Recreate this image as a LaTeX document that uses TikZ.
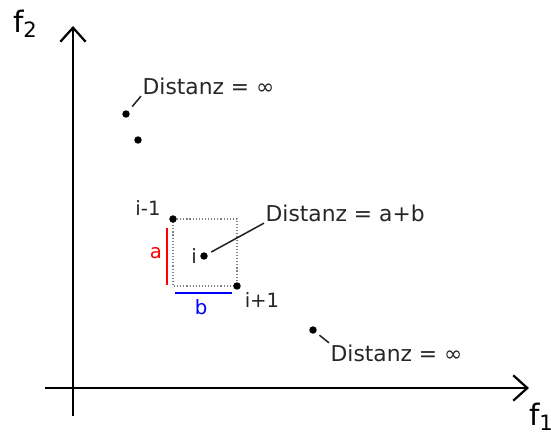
\documentclass[tikz,border=0pt]{standalone}
\usepackage{fontspec}
\setmainfont{DejaVu Sans}
\usetikzlibrary{arrows.meta,positioning}
\begin{document}
\begin{tikzpicture}[
    x=0.025cm, y=-0.025cm,
    dot/.style={circle, fill, inner sep=0pt, minimum size=5.3pt},
    axis/.style={-{Straight Barb[length=10pt,width=18pt,line width=1.6pt]}, line width=1.6pt},
    lbl/.style={font=\fontsize{15.5}{18}\selectfont, inner sep=1pt, text=black!85},
    small/.style={font=\fontsize{14}{17}\selectfont, inner sep=1pt, text=black!85},
    big/.style={font=\fontsize{21}{24}\selectfont, inner sep=1pt},
    leader/.style={line width=1.1pt, black!85}
]
\useasboundingbox (0,0) rectangle (551,437);
% axes
\coordinate (x0) at (45,388);
\coordinate (x1) at (529,388);
\coordinate (y0) at (73,416);
\coordinate (y1) at (73,26);
\draw[axis] (x0) -- (x1);
\draw[axis] (y0) -- (y1);
\node[big] (f1) at (541,417) {f\raisebox{-0.3ex}{\fontsize{15}{15}\selectfont 1}};
\node[big] (f2) at (25,24) {f\raisebox{-0.3ex}{\fontsize{15}{15}\selectfont 2}};

% box around neighbours
\coordinate (ca) at (173,219);
\coordinate (cb) at (237,286);
\draw[gray, line width=0.8pt, dash pattern=on 0.8pt off 1.4pt] (ca) rectangle (cb);
\coordinate (a0) at (167,228);
\coordinate (a1) at (167,285);
\coordinate (b0) at (175,293);
\coordinate (b1) at (232,293);
\draw[red, line width=1.7pt] (a0) -- (a1);
\draw[blue, line width=1.7pt] (b0) -- (b1);
\node[small, text=red] (la) at (156,253) {a};
\node[small, text=blue] (lb) at (201,307) {b};

% points
\node[dot] (p1) at (126,114) {};
\node[dot] (p2) at (138,140) {};
\node[dot] (pa) at (ca) {};
\node[dot] (pi) at (204,256) {};
\node[dot] (pb) at (cb) {};
\node[dot] (p6) at (313,330) {};

% labels
\node[small] (li0) at (148,208) {i-1};
\node[small, left=1pt of pi] (li) {i};
\node[small] (li1) at (262,300) {i+1};

\node[lbl, anchor=west] (d1) at (141,86) {Distanz = ∞};
\node[lbl, anchor=west] (d2) at (264,213) {Distanz = a+b};
\node[lbl, anchor=west] (d3) at (329,353) {Distanz = ∞};
\draw[leader, shorten <=4pt] (p1) -- (d1.south west);
\draw[leader, shorten <=3pt] (pi) -- (d2.south west);
\draw[leader, shorten <=3pt] (p6) -- (d3.north west);
\end{tikzpicture}
\end{document}
